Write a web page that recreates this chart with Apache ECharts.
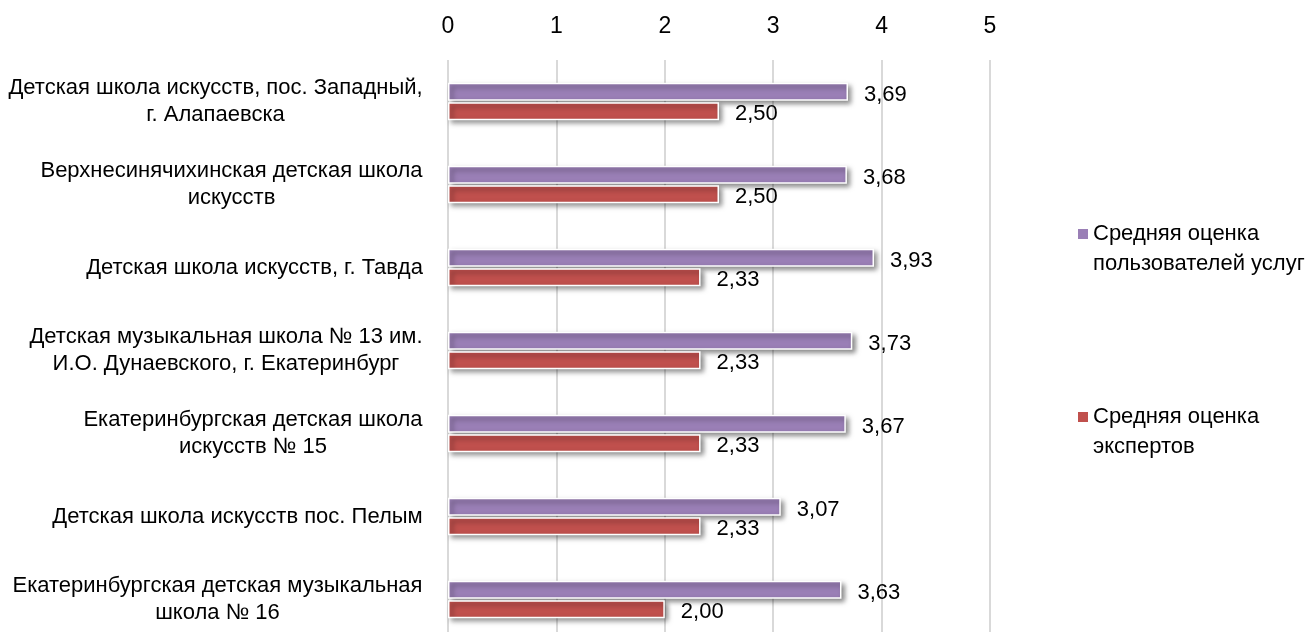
<!DOCTYPE html>
<html><head><meta charset="utf-8">
<script src="https://cdn.jsdelivr.net/npm/echarts@6/dist/echarts.min.js"></script>
<style>html,body{margin:0;padding:0;background:#fff}#c{width:1308px;height:632px}</style>
</head><body><div id="c"></div>
<script>
const categories = [
  'Детская школа искусств, пос. Западный,\nг. Алапаевска',
  'Верхнесинячихинская детская школа\nискусств',
  'Детская школа искусств, г. Тавда',
  'Детская музыкальная школа № 13 им.\nИ.О. Дунаевского, г. Екатеринбург',
  'Екатеринбургская детская школа\nискусств № 15',
  'Детская школа искусств пос. Пелым',
  'Екатеринбургская детская музыкальная\nшкола № 16'
];
const usersScores = [3.69, 3.68, 3.93, 3.73, 3.67, 3.07, 3.63];
const expertScores = [2.50, 2.50, 2.33, 2.33, 2.33, 2.33, 2.00];
const seriesNames = ['Средняя оценка\nпользователей услуг', 'Средняя оценка\nэкспертов'];
const xTicks = [0, 1, 2, 3, 4, 5];

const FONT = '"Liberation Sans Narrow", "Arial Narrow", "Liberation Sans", Arial, sans-serif';
const FS = 22;
const colors = ['#9A7FB6', '#C0504D'];

// measure label lines to center multi-line labels inside a right-aligned block
const cv = document.createElement('canvas').getContext('2d');
cv.font = FS + 'px ' + FONT;
const rich = {};
categories.forEach((c, i) => {
  const w = Math.max(...c.split('\n').map(l => cv.measureText(l).width));
  rich['c' + i] = { width: Math.ceil(w), align: 'center', fontFamily: FONT, fontSize: FS, color: '#000', lineHeight: 27 };
});

const chart = echarts.init(document.getElementById('c'), null, { renderer: 'canvas' });
const fmt = p => p.value.toFixed(2).replace('.', ',');
const barCommon = {
  type: 'bar',
  barWidth: 18,
  barGap: '8%',
  label: { show: true, position: 'right', distance: 16, formatter: fmt,
    fontFamily: FONT, fontSize: FS, color: '#000', offset: [0, 3] },
};
const shadow = { borderColor: '#fff', borderWidth: 1.5,
  shadowColor: 'rgba(0,0,0,0.5)', shadowBlur: 5, shadowOffsetX: 3, shadowOffsetY: 3 };
chart.setOption({
  animation: false,
  textStyle: { fontFamily: FONT },
  grid: { left: 448, right: 318, top: 60, bottom: -9, containLabel: false, outerBoundsMode: 'none' },
  legend: {
    orient: 'vertical', left: 1073, top: 214, itemGap: 123,
    itemWidth: 10, itemHeight: 40, icon: 'path://M0,0H10V10H0Z M0,40H10',
    itemStyle: { borderWidth: 0, shadowBlur: 0, shadowOffsetX: 0, shadowOffsetY: 0 },
    textStyle: { fontFamily: FONT, fontSize: FS, color: '#000', lineHeight: 30, padding: [0, 0, 0, 0] },
    data: seriesNames
  },
  xAxis: {
    type: 'value', position: 'top', min: xTicks[0], max: xTicks[xTicks.length - 1], interval: 1,
    axisLine: { show: false }, axisTick: { show: false },
    axisLabel: { margin: 22, fontFamily: FONT, fontSize: FS + 1, color: '#000' },
    splitLine: { show: true, lineStyle: { color: '#D9D9D9', width: 2 } }
  },
  yAxis: {
    type: 'category', inverse: true, data: categories,
    axisLine: { show: false }, axisTick: { show: false },
    axisLabel: {
      margin: 25, align: 'right',
      formatter: (v, i) => v.split('\n').map(l => '{c' + i + '|' + l + '}').join('\n'),
      rich: rich
    }
  },
  series: [
    Object.assign({}, barCommon, { name: seriesNames[0], data: usersScores,
      itemStyle: Object.assign({ color: colors[0] }, shadow) }),
    Object.assign({}, barCommon, { name: seriesNames[1], data: expertScores,
      itemStyle: Object.assign({ color: colors[1] }, shadow) })
  ]
});
</script></body></html>
